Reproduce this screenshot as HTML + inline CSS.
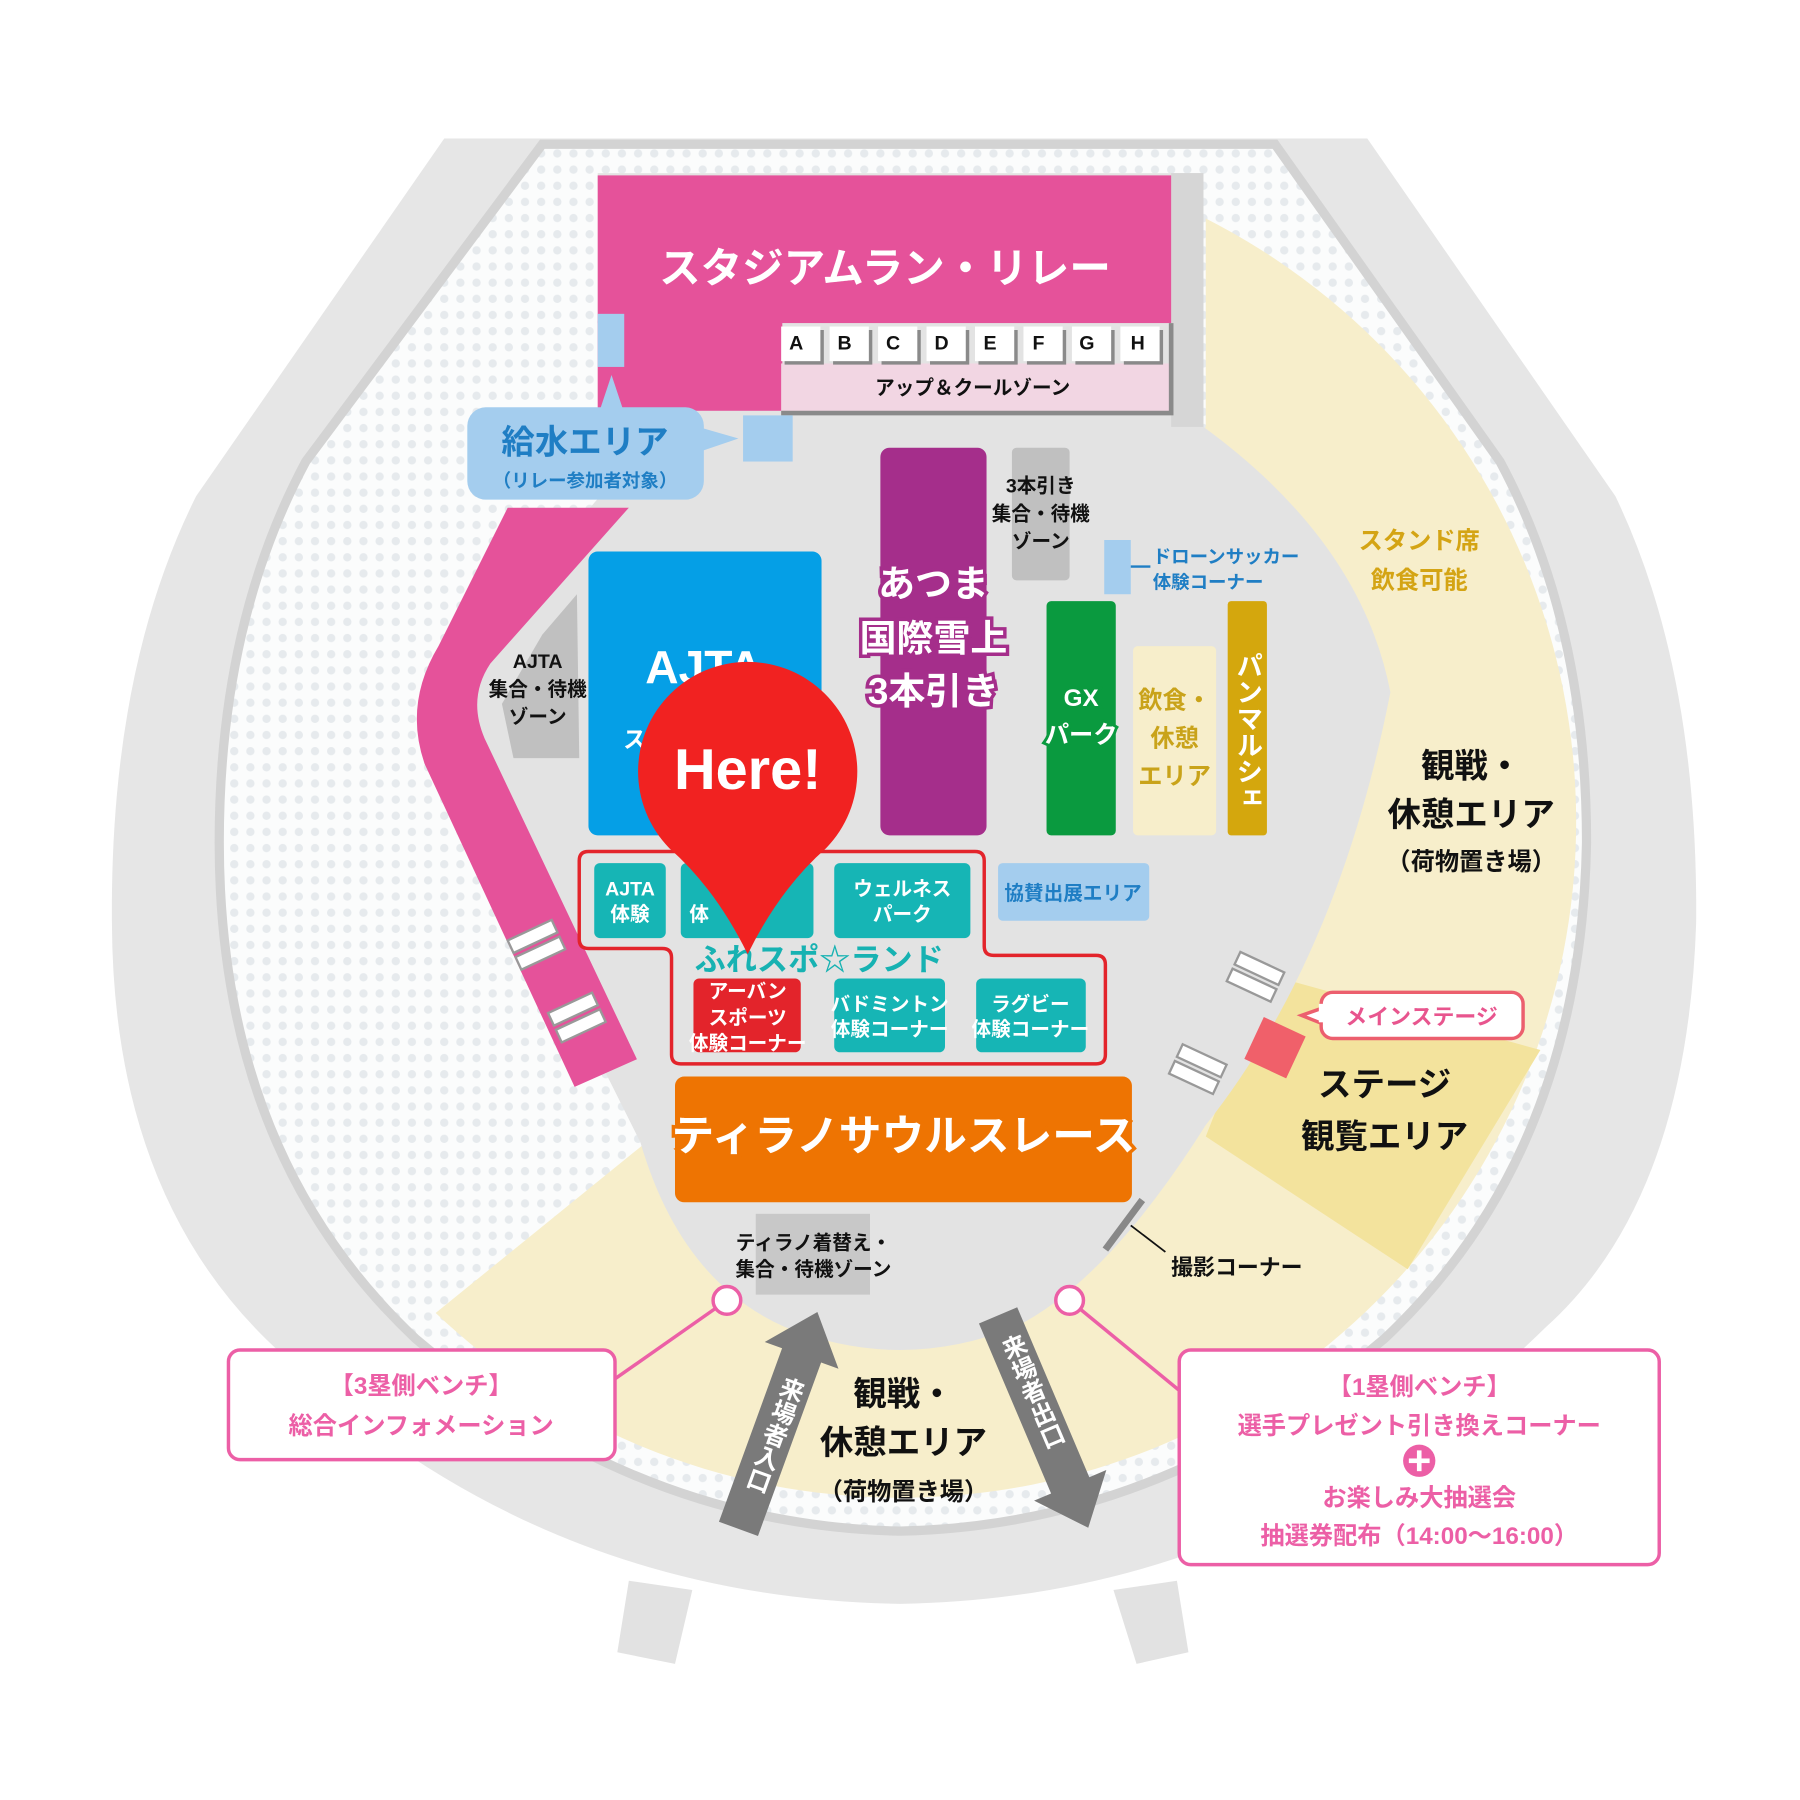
<!DOCTYPE html>
<html><head><meta charset="utf-8"><style>
html,body{margin:0;padding:0;background:#fff}
svg{display:block}
text{font-family:"Liberation Sans","Noto Sans CJK JP",sans-serif;font-weight:bold}
</style></head><body>
<svg width="1800" height="1800" viewBox="0 0 1560 1560" xmlns="http://www.w3.org/2000/svg">
<defs>
<pattern id="dots" width="14" height="14" patternUnits="userSpaceOnUse">
<rect width="14" height="14" fill="#fbfcfc"/><circle cx="7" cy="7" r="3.6" fill="#e6eaed"/>
</pattern>
<clipPath id="cc"><polygon points="1045,100 1600,100 1600,1600 300,1600 375,1140 560,990 1045,370"/></clipPath>
</defs>
<rect width="1560" height="1560" fill="#fff"/>
<path d="M385,120 L1185,120 L1400,430 Q1472,580 1470,800 Q1462,1040 1340,1150 Q1100,1385 780,1390 Q460,1385 230,1160 Q98,1030 97,800 Q95,580 170,430 Z" fill="#e6e6e6"/>
<polygon points="545,1370 600,1378 585,1442 535,1432" fill="#e2e2e2"/>
<polygon points="965,1378 1020,1370 1030,1432 985,1442" fill="#e2e2e2"/>
<path d="M470,125 L1105,125 L1300,400 Q1375,540 1375,730 Q1370,1000 1200,1160 Q1010,1322 780,1327 Q550,1322 360,1160 Q190,1000 190,730 Q190,540 265,400 Z" fill="url(#dots)" stroke="#d3d3d3" stroke-width="8"/>
<circle cx="780" cy="712" r="586" fill="#f7eecb" clip-path="url(#cc)"/>
<polygon points="1100,845 1335,910 1220,1100 1045,985" fill="#f3e39d"/>
<path d="M518,150 L1043,150 L1043,370 Q1180,470 1205,600 Q1160,830 1045,975 Q960,1110 880,1150 Q780,1190 680,1150 Q590,1110 555,990 L440,760 Q390,650 400,570 L520,430 Z" fill="#e3e3e3"/>
<rect x="1015" y="150" width="28" height="220" fill="#d6d6d6"/>
<path d="M440,440 L545,440 L425,575 Q405,605 420,640 L552,918 L498,942 L368,662 Q350,610 380,560 Z" fill="#e5529a"/>
<g fill="#fff" stroke="#999" stroke-width="2">
<g transform="translate(440,815) rotate(-25)"><rect width="42" height="12"/><rect y="16" width="42" height="12"/></g>
<g transform="translate(475,878) rotate(-25)"><rect width="42" height="12"/><rect y="16" width="42" height="12"/></g>
<g transform="translate(1075,825) rotate(25)"><rect width="42" height="12"/><rect y="16" width="42" height="12"/></g>
<g transform="translate(1025,905) rotate(25)"><rect width="42" height="12"/><rect y="16" width="42" height="12"/></g>
</g>
<rect x="518" y="152" width="497" height="128" fill="#e5529a"/>
<rect x="518" y="278" width="160" height="78" fill="#e5529a"/>
<rect x="677" y="315" width="338" height="43" fill="#f2d6e3"/>
<polyline points="1015,280 1015,358 677,358" fill="none" stroke="#8a8a8a" stroke-width="4"/>
<g font-size="17" text-anchor="middle" fill="#111">
<g fill="#8a8a8a">
<rect x="680" y="286" width="34" height="30"/><rect x="722" y="286" width="34" height="30"/><rect x="764" y="286" width="34" height="30"/><rect x="806" y="286" width="34" height="30"/><rect x="848" y="286" width="34" height="30"/><rect x="890" y="286" width="34" height="30"/><rect x="932" y="286" width="34" height="30"/><rect x="974" y="286" width="34" height="30"/>
</g>
<g fill="#fff">
<rect x="677" y="283" width="34" height="30"/><rect x="719" y="283" width="34" height="30"/><rect x="761" y="283" width="34" height="30"/><rect x="803" y="283" width="34" height="30"/><rect x="845" y="283" width="34" height="30"/><rect x="887" y="283" width="34" height="30"/><rect x="929" y="283" width="34" height="30"/><rect x="971" y="283" width="34" height="30"/>
</g>
<text x="690" y="303">A</text><text x="732" y="303">B</text><text x="774" y="303">C</text><text x="816" y="303">D</text><text x="858" y="303">E</text><text x="900" y="303">F</text><text x="942" y="303">G</text><text x="986" y="303">H</text>
<text x="843" y="342">アップ＆クールゾーン</text>
</g>
<text x="767" y="245" font-size="36" fill="#fff" text-anchor="middle">スタジアムラン・リレー</text>
<rect x="518" y="272" width="23" height="46" fill="#a4cdee"/>
<rect x="644" y="360" width="43" height="40" fill="#a4cdee"/>
<polygon points="520,355 530,325 540,355" fill="#a4cdee"/>
<polygon points="605,370 640,380 605,392" fill="#a4cdee"/>
<rect x="405" y="353" width="205" height="80" rx="16" fill="#a4cdee"/>
<text x="507" y="393" font-size="29" fill="#1f7ec4" text-anchor="middle">給水エリア</text>
<text x="507" y="422" font-size="16" fill="#1f7ec4" text-anchor="middle">（リレー参加者対象）</text>
<polygon points="500,515 502,657 445,657 435,610 470,550" fill="#c0c0c0"/>
<g font-size="17" text-anchor="middle" fill="#111"><text x="466" y="579">AJTA</text><text x="466" y="603">集合・待機</text><text x="466" y="627">ゾーン</text></g>
<rect x="510" y="478" width="202" height="246" rx="8" fill="#059fe6"/>
<text x="610" y="592" font-size="40" fill="#fff" text-anchor="middle">AJTA</text>
<text x="560" y="648" font-size="20" fill="#fff" text-anchor="middle">スタ</text>
<rect x="763" y="388" width="92" height="336" rx="8" fill="#a52e8b"/>
<g font-size="32" fill="#fff" stroke="#a52e8b" stroke-width="6" paint-order="stroke" text-anchor="middle">
<text x="809" y="517">あつま</text><text x="809" y="564">国際雪上</text><text x="809" y="610">3本引き</text></g>
<rect x="877" y="388" width="50" height="115" rx="4" fill="#c0c0c0"/>
<g font-size="17" fill="#111" text-anchor="middle"><text x="902" y="427">3本引き</text><text x="902" y="451">集合・待機</text><text x="902" y="475">ゾーン</text></g>
<rect x="957" y="468" width="23" height="47" fill="#a4cdee"/>
<line x1="980" y1="491" x2="997" y2="491" stroke="#1f7ec4" stroke-width="2"/>
<g font-size="16" fill="#1f7ec4"><text x="999" y="488">ドローンサッカー</text><text x="999" y="510">体験コーナー</text></g>
<rect x="907" y="521" width="60" height="203" rx="4" fill="#0a9a3f"/>
<g font-size="21" fill="#fff" stroke="#0a9a3f" stroke-width="5" paint-order="stroke" text-anchor="middle"><text x="937" y="612">GX</text><text x="937" y="644">パーク</text></g>
<rect x="982" y="560" width="72" height="164" rx="4" fill="#f7eecb"/>
<g font-size="21" fill="#c9a31a" text-anchor="middle"><text x="1018" y="614">飲食・</text><text x="1018" y="647">休憩</text><text x="1018" y="680">エリア</text></g>
<rect x="1064" y="521" width="34" height="203" rx="3" fill="#d4a70d"/>
<text x="1081" y="565" font-size="23" fill="#fff" style="writing-mode:vertical-rl">パンマルシェ</text>
<g font-size="21" fill="#d4a414" text-anchor="middle"><text x="1230" y="476">スタンド席</text><text x="1230" y="510">飲食可能</text></g>
<g fill="#111" text-anchor="middle"><text x="1275" y="674" font-size="29">観戦・</text><text x="1275" y="716" font-size="29">休憩エリア</text><text x="1275" y="754" font-size="21">（荷物置き場）</text></g>
<path d="M510,738 L845,738 Q853,738 853,746 L853,820 Q853,828 861,828 L950,828 Q958,828 958,836 L958,914 Q958,922 950,922 L590,922 Q582,922 582,914 L582,830 Q582,822 574,822 L510,822 Q502,822 502,814 L502,746 Q502,738 510,738 Z" fill="none" stroke="#e3242b" stroke-width="3"/>
<rect x="515" y="748" width="62" height="65" rx="5" fill="#16b5b5"/>
<rect x="590" y="748" width="115" height="65" rx="5" fill="#16b5b5"/>
<rect x="723" y="748" width="118" height="65" rx="5" fill="#16b5b5"/>
<rect x="601" y="848" width="93" height="64" rx="5" fill="#e3242b"/>
<rect x="723" y="848" width="96" height="64" rx="5" fill="#16b5b5"/>
<rect x="846" y="848" width="95" height="64" rx="5" fill="#16b5b5"/>
<g font-size="17" fill="#fff" text-anchor="middle">
<text x="546" y="776">AJTA</text><text x="546" y="798">体験</text>
<text x="606" y="798">体</text>
<text x="782" y="776">ウェルネス</text><text x="782" y="798">パーク</text>
<text x="648" y="865">アーバン</text><text x="648" y="888">スポーツ</text><text x="648" y="910">体験コーナー</text>
<text x="771" y="876">バドミントン</text><text x="771" y="898">体験コーナー</text>
<text x="893" y="876">ラグビー</text><text x="893" y="898">体験コーナー</text>
</g>
<text x="710" y="841" font-size="27" fill="#17b2b2" text-anchor="middle">ふれスポ☆ランド</text>
<rect x="865" y="748" width="131" height="50" rx="4" fill="#a4cdee"/>
<text x="930" y="780" font-size="17" fill="#1f7ec4" text-anchor="middle">協賛出展エリア</text>
<path d="M648,827 Q620,770 580,735 A95,95 0 1 1 716,735 Q676,770 648,827 Z" fill="#f12221"/>
<text x="648" y="684" font-size="50" fill="#fff" text-anchor="middle">Here!</text>
<rect x="585" y="933" width="396" height="109" rx="8" fill="#ee7402"/>
<text x="783" y="997" font-size="37" fill="#fff" stroke="#ee7402" stroke-width="6" paint-order="stroke" text-anchor="middle">ティラノサウルスレース</text>
<rect x="655" y="1052" width="99" height="70" fill="#c8c8c8"/>
<g font-size="17" fill="#111" text-anchor="middle"><text x="705" y="1083">ティラノ着替え・</text><text x="705" y="1106">集合・待機ゾーン</text></g>
<g transform="translate(640,1325) rotate(20)">
<polygon points="-18,0 18,0 18,-160 34,-160 0,-200 -34,-160 -18,-160" fill="#7a7a7a"/>
<text x="0" y="-140" font-size="21" fill="#fff" style="writing-mode:vertical-rl">来場者入口</text>
</g>
<g transform="translate(865,1140) rotate(-23)">
<polygon points="-18,0 18,0 18,160 34,160 0,200 -34,160 -18,160" fill="#7a7a7a"/>
<text x="0" y="20" font-size="21" fill="#fff" style="writing-mode:vertical-rl">来場者出口</text>
</g>
<g fill="#111" text-anchor="middle"><text x="783" y="1218" font-size="29">観戦・</text><text x="783" y="1260" font-size="29">休憩エリア</text><text x="783" y="1300" font-size="21">（荷物置き場）</text></g>
<rect x="1085" y="888" width="40" height="40" fill="#f0606a" transform="rotate(25 1105 908)"/>
<polygon points="1148,873 1128,880 1148,888" fill="#fff" stroke="#ec5f6e" stroke-width="3"/>
<rect x="1145" y="860" width="175" height="40" rx="10" fill="#fff" stroke="#ec5f6e" stroke-width="3"/>
<rect x="1143" y="870" width="6" height="16" fill="#fff"/>
<text x="1232" y="888" font-size="19" fill="#e8558e" text-anchor="middle">メインステージ</text>
<g font-size="29" fill="#111" text-anchor="middle"><text x="1200" y="950">ステージ</text><text x="1200" y="995">観覧エリア</text></g>
<line x1="958" y1="1083" x2="990" y2="1040" stroke="#888" stroke-width="6"/>
<line x1="980" y1="1062" x2="1010" y2="1085" stroke="#111" stroke-width="1.5"/>
<text x="1015" y="1105" font-size="19" fill="#111">撮影コーナー</text>
<line x1="630" y1="1127" x2="533" y2="1195" stroke="#ec5fa6" stroke-width="3"/>
<line x1="927" y1="1127" x2="1022" y2="1205" stroke="#ec5fa6" stroke-width="3"/>
<circle cx="630" cy="1127" r="12" fill="#fff" stroke="#ec5fa6" stroke-width="3"/>
<circle cx="927" cy="1127" r="12" fill="#fff" stroke="#ec5fa6" stroke-width="3"/>
<rect x="198" y="1170" width="335" height="95" rx="10" fill="#fff" stroke="#ec5fa6" stroke-width="3"/>
<rect x="1022" y="1170" width="416" height="186" rx="10" fill="#fff" stroke="#ec5fa6" stroke-width="3"/>
<g font-size="21" fill="#ec5fa6" text-anchor="middle">
<text x="365" y="1208">【3塁側ベンチ】</text><text x="365" y="1243">総合インフォメーション</text>
<text x="1230" y="1209">【1塁側ベンチ】</text><text x="1230" y="1243">選手プレゼント引き換えコーナー</text>
<text x="1230" y="1305">お楽しみ大抽選会</text><text x="1230" y="1338">抽選券配布（14:00〜16:00）</text>
</g>
<circle cx="1230" cy="1266" r="14" fill="#ec5fa6"/>
<rect x="1221" y="1264" width="18" height="4" fill="#fff"/><rect x="1228" y="1257" width="4" height="18" fill="#fff"/>
</svg>
</body></html>
